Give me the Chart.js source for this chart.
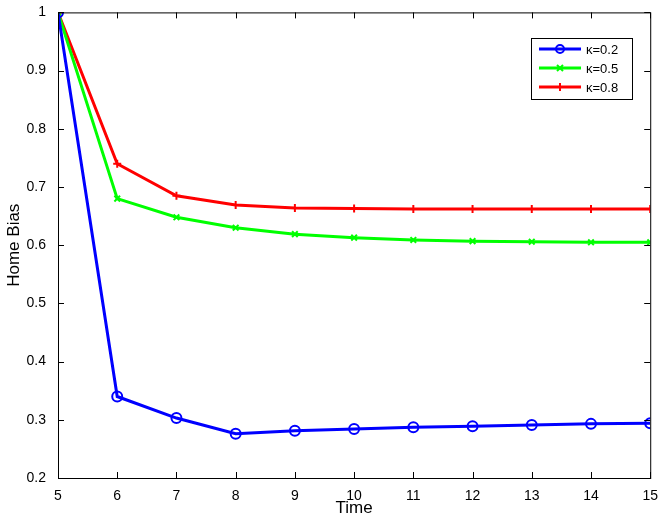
<!DOCTYPE html>
<html><head><meta charset="utf-8">
<script src="https://cdn.jsdelivr.net/npm/chart.js@4"></script>
<style>body{margin:0;background:#fff}#w{width:660px;height:523px}</style>
</head><body><div id="w"><canvas id="c"></canvas></div>
<script>
const times = [5,6,7,8,9,10,11,12,13,14,15];
const k02 = [1,0.34,0.303,0.276,0.281,0.284,0.287,0.289,0.291,0.293,0.294];
const k05 = [1,0.68,0.648,0.63,0.619,0.613,0.609,0.607,0.606,0.605,0.605];
const k08 = [1,0.74,0.685,0.669,0.664,0.663,0.662,0.662,0.662,0.662,0.662];
const yTicks = [0.2,0.3,0.4,0.5,0.6,0.7,0.8,0.9,1];
const F = 'Liberation Sans, Arial, sans-serif';

const mk = (lab, d, col, st) => ({label:lab, data:times.map((t,i)=>({x:t,y:d[i]})), borderColor:col, backgroundColor:col,
  borderWidth:3, pointStyle:st, pointRadius:st==='circle'?5:4, pointBorderWidth:2, pointBackgroundColor:st==='circle'?'rgba(0,0,0,0)':col, tension:0});

const boxPlugin = {id:'box', afterDraw(ch){
  const c=ch.ctx, a=ch.chartArea, xs=ch.scales.x, ys=ch.scales.y;
  c.save(); c.strokeStyle='#000'; c.lineWidth=1;
  c.strokeRect(a.left+.5,a.top+.5,a.right-a.left,a.bottom-a.top);
  c.beginPath();
  times.forEach(t=>{const p=Math.round(xs.getPixelForValue(t))+.5;c.moveTo(p,a.bottom);c.lineTo(p,a.bottom-6);c.moveTo(p,a.top);c.lineTo(p,a.top+6);});
  yTicks.forEach(v=>{const p=Math.round(ys.getPixelForValue(v))+.5;c.moveTo(a.left,p);c.lineTo(a.left+6,p);c.moveTo(a.right,p);c.lineTo(a.right-6,p);});
  c.stroke();
  // legend
  const lx=531, ly=38, lw=101, lh=61;
  c.fillStyle='#fff'; c.fillRect(lx,ly,lw,lh); c.strokeRect(lx+.5,ly+.5,lw,lh);
  ch.data.datasets.forEach((ds,i)=>{
    const y=ly+11+i*19;
    c.strokeStyle=ds.borderColor; c.lineWidth=3; c.beginPath(); c.moveTo(lx+8,y); c.lineTo(lx+50,y); c.stroke();
    c.lineWidth=2; c.beginPath();
    if(ds.pointStyle==='circle'){c.arc(lx+29,y,4,0,Math.PI*2);}
    else if(ds.pointStyle==='cross'){c.moveTo(lx+29,y-4);c.lineTo(lx+29,y+4);}
    else {c.moveTo(lx+26,y-3);c.lineTo(lx+32,y+3);c.moveTo(lx+32,y-3);c.lineTo(lx+26,y+3);}
    c.stroke();
    c.fillStyle='#000'; c.font='13px '+F; c.textBaseline='middle'; c.fillText(ds.label,lx+55,y+1);
  });
  c.restore();
}};

new Chart(document.getElementById('c'), {
  type:'line',
  data:{datasets:[mk('\u03ba=0.2',k02,'#0000ff','circle'), mk('\u03ba=0.5',k05,'#00ff00','crossRot'), mk('\u03ba=0.8',k08,'#ff0000','cross')]},
  options:{responsive:true, maintainAspectRatio:false, animation:false,
    layout:{padding:{top:9,right:5,left:0,bottom:0}},
    plugins:{legend:{display:false}, tooltip:{enabled:false}},
    scales:{
      x:{type:'linear', min:5, max:15, afterBuildTicks:s=>{s.ticks=times.map(v=>({value:v}));},
        grid:{display:false}, border:{display:false},
        ticks:{color:'#000',font:{family:F,size:14},padding:2,maxRotation:0},
        title:{display:true,text:'Time',color:'#000',font:{family:F,size:17},padding:{top:0}},
        afterFit:s=>{s.height=45;}},
      y:{min:0.2, max:1, afterBuildTicks:s=>{s.ticks=yTicks.map(v=>({value:v}));},
        grid:{display:false}, border:{display:false},
        ticks:{color:'#000',font:{family:F,size:14},padding:4,callback:v=>v===1?'1':v.toFixed(1)},
        title:{display:true,text:'Home Bias',color:'#000',font:{family:F,size:17}},
        afterFit:s=>{s.width=58;}}
    }},
  plugins:[boxPlugin]
});
</script></body></html>
